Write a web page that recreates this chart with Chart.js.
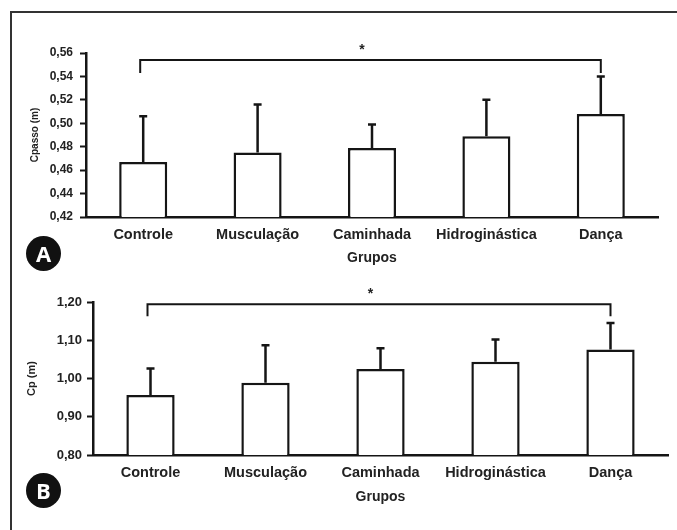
<!DOCTYPE html>
<html>
<head>
<meta charset="utf-8">
<script src="https://cdn.jsdelivr.net/npm/chart.js@4"></script>
<style>
  body { margin: 0; background: #fff; overflow: hidden; }
  #pagina { position: relative; width: 677px; height: 530px; }
  #moldura { position: absolute; left: 10px; top: 11px; width: 667px; height: 519px;
    border-left: 2px solid #333; border-top: 2px solid #333; box-sizing: border-box; }
  canvas { position: absolute; left: 0; }
  .letra { position: absolute; width: 35px; height: 35px; border-radius: 50%; background: #111;
    color: #fff; font: bold 22px "Open Sans", sans-serif; text-align: center; line-height: 35px; }
</style>
</head>
<body>
<div id="pagina">
  <div id="moldura"></div>
  <canvas id="graficaA" width="677" height="265" style="top:0"></canvas>
  <canvas id="graficaB" width="677" height="265" style="top:265px"></canvas>
  <div class="letra" style="left:26px; top:236px">A</div>
  <div class="letra" style="left:26px; top:473px">B</div>
</div>
<script>
// datos
const grupos = ['Controle', 'Musculação', 'Caminhada', 'Hidroginástica', 'Dança'];

const cpassoMedia = [0.467, 0.475, 0.479, 0.489, 0.508];
const cpassoDP = [0.039, 0.041, 0.020, 0.031, 0.032];
const cpassoTicks = [0.42, 0.44, 0.46, 0.48, 0.50, 0.52, 0.54, 0.56];

const cpMedia = [0.957, 0.989, 1.025, 1.044, 1.076];
const cpDP = [0.069, 0.098, 0.054, 0.058, 0.069];
const cpTicks = [0.80, 0.90, 1.00, 1.10, 1.20];

// comparacion Controle x Dança (*)
const chaveA = { de: 0, ate: 4, nivel: 0.554, ponta: 0.543, marca: '*' };
const chaveB = { de: 0, ate: 4, nivel: 1.194, ponta: 1.163, marca: '*' };

const corLinha = '#151515';
const corTexto = '#222';
const familia = '"Liberation Sans", Arial, sans-serif';

// barras de desvio + chave de significancia
const anotacoes = {
  id: 'anotacoes',
  afterDatasetsDraw(chart, args, opts) {
    const { ctx, scales: { x, y } } = chart;
    const media = chart.data.datasets[0].data;
    ctx.save();
    ctx.strokeStyle = corLinha;
    ctx.lineWidth = 2.5;
    media.forEach((v, i) => {
      const px = x.getPixelForValue(i);
      const y0 = y.getPixelForValue(v);
      const y1 = y.getPixelForValue(v + opts.dp[i]);
      ctx.beginPath();
      ctx.moveTo(px, y0);
      ctx.lineTo(px, y1);
      ctx.moveTo(px - 4, y1);
      ctx.lineTo(px + 4, y1);
      ctx.stroke();
    });
    const c = opts.chave;
    const xa = x.getPixelForValue(c.de) - 3;
    const xb = x.getPixelForValue(c.ate);
    const yn = y.getPixelForValue(c.nivel);
    const yp = y.getPixelForValue(c.ponta);
    ctx.lineWidth = 2;
    ctx.beginPath();
    ctx.moveTo(xa, yp);
    ctx.lineTo(xa, yn);
    ctx.lineTo(xb, yn);
    ctx.lineTo(xb, yp);
    ctx.stroke();
    ctx.fillStyle = corTexto;
    ctx.font = 'bold 14px ' + familia;
    ctx.textAlign = 'center';
    ctx.textBaseline = 'middle';
    ctx.fillText(c.marca, x.getPixelForValue(2) - 10, yn - 10);
    ctx.restore();
  }
};

function montarGrafica(id, media, dp, ticks, chave, cfg) {
  const ctx = document.getElementById(id).getContext('2d');
  return new Chart(ctx, {
    type: 'bar',
    data: {
      labels: grupos,
      datasets: [{
        data: media,
        backgroundColor: '#fff',
        borderColor: corLinha,
        borderWidth: 2.5,
        borderSkipped: 'bottom',
        barPercentage: 0.42,
        categoryPercentage: 1
      }]
    },
    options: {
      responsive: false,
      animation: false,
      layout: { padding: { left: 0, right: cfg.derecha, top: cfg.arriba, bottom: 0 } },
      plugins: {
        legend: { display: false },
        tooltip: { enabled: false },
        anotacoes: { dp: dp, chave: chave }
      },
      scales: {
        x: {
          afterFit: s => { s.height = cfg.altoX; },
          grid: { display: false, drawTicks: false },
          border: { display: true, color: corLinha, width: 2.5 },
          ticks: { color: corTexto, padding: 9, font: { family: familia, size: 14.5, weight: 'bold' } },
          title: {
            display: true,
            text: 'Grupos',
            color: corTexto,
            padding: { top: 0, bottom: cfg.grupos },
            font: { family: familia, size: 14, weight: 'bold', lineHeight: 1 }
          }
        },
        y: {
          min: ticks[0],
          max: ticks[ticks.length - 1],
          afterFit: s => { s.width = cfg.anchoY; },
          afterBuildTicks: s => { s.ticks = ticks.map(v => ({ value: v })); },
          grid: { drawOnChartArea: false, drawTicks: true, tickLength: 6, tickWidth: 2, color: corLinha },
          border: { display: true, color: corLinha, width: 2.5 },
          ticks: {
            color: corTexto,
            padding: cfg.pad,
            font: { family: familia, size: cfg.tamTick, weight: 'bold' },
            callback: v => v.toFixed(2).replace('.', ',')
          },
          title: {
            display: true,
            text: cfg.titulo,
            color: corTexto,
            padding: { top: cfg.tituloPad, bottom: 0 },
            font: { family: familia, size: cfg.tamTitulo, weight: 'bold', lineHeight: 1.2 }
          }
        }
      }
    },
    plugins: [anotacoes]
  });
}

document.addEventListener('DOMContentLoaded', () => {
  montarGrafica('graficaA', cpassoMedia, cpassoDP, cpassoTicks, chaveA, {
    titulo: 'Cpasso (m)', tamTitulo: 10, tituloPad: 29, tamTick: 12, pad: 7,
    anchoY: 86, derecha: 19, arriba: 53, altoX: 48, grupos: 0
  });
  montarGrafica('graficaB', cpMedia, cpDP, cpTicks, chaveB, {
    titulo: 'Cp (m)', tamTitulo: 11, tituloPad: 25, tamTick: 13, pad: 5,
    anchoY: 93, derecha: 9, arriba: 37, altoX: 75, grupos: 26
  });
});
</script>
</body>
</html>
